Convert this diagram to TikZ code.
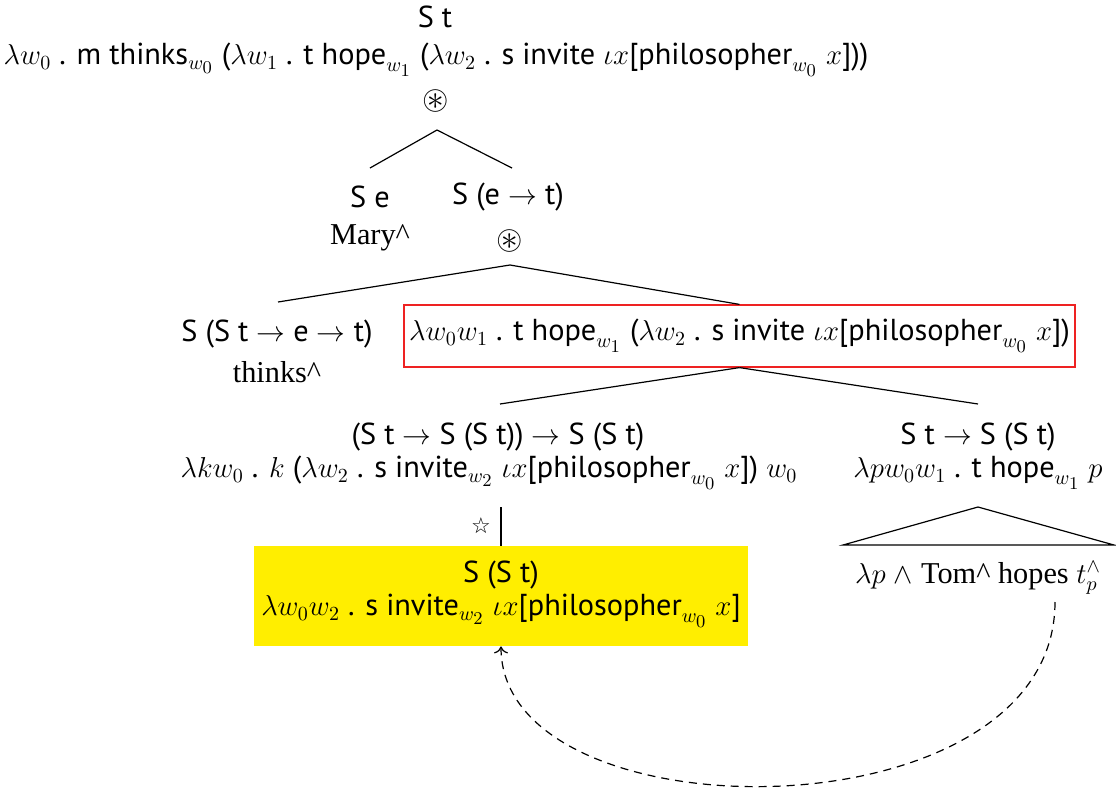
\documentclass[tikz,border=0pt]{standalone}
\usepackage{amsmath,amssymb}
\usepackage{fontspec}
\usetikzlibrary{arrows.meta}
\setmainfont{PT Sans}[Scale=1.06]
\newfontfamily\serifrm{Liberation Serif}[Scale=1.06]
\newfontfamily\symfont{DejaVu Sans}
\DeclareMathSizes{14.3}{14.3}{10.4}{8.6}
\definecolor{boxyellow}{HTML}{FFEE00}
\definecolor{boxred}{HTML}{EE2222}
\newcommand{\tx}[1]{\text{#1}}
\begin{document}
\begin{tikzpicture}[x=0.5pt,y=-0.5pt,
  lbl/.style={inner sep=0pt, anchor=center, font=\fontsize{14.3}{16}\selectfont},
  opsym/.style={inner sep=0pt, anchor=center, font=\fontsize{17}{19}\selectfont},
  edge/.style={line width=0.6pt},
  redbox/.style={draw=boxred, line width=0.6pt, minimum width=335.5pt, minimum height=31pt, inner sep=0pt, font=\fontsize{14.3}{16}\selectfont},
  yelbox/.style={fill=boxyellow, minimum width=247pt, minimum height=50pt, inner sep=0pt}]
\useasboundingbox (0,0) rectangle (1116,794);

% root
\node[lbl] (rtype) at (435,17) {S t};
\node[lbl] (rsem) at (436,60) {$\lambda w_0$ . m $\tx{thinks}_{w_0}$ ($\lambda w_1$ . t $\tx{hope}_{w_1}$ ($\lambda w_2$ . s invite $\iota x$[$\tx{philosopher}_{w_0}$ $x$]))};
\node[opsym] (rop) at (436,101) {$\circledast$};
\coordinate (rtop) at (437,130);

% level 1
\node[lbl] (setype) at (370,197) {S e};
\node[lbl] (mary) at (370,238) {\serifrm Mary\textasciicircum};
\coordinate (setop) at (370,168);
\node[lbl] (vptype) at (508,197) {S (e $\to$ t)};
\node[opsym] (vpop) at (510,241) {$\circledast$};
\coordinate (vptop) at (512,168);
\coordinate (vpbot) at (510,265);

% level 2
\coordinate (thtop) at (278,302);
\node[lbl] (thtype) at (277,334) {S (S t $\to$ e $\to$ t)};
\node[lbl] (thinks) at (277,372) {\serifrm thinks\textasciicircum};
\node[redbox] (hbox) at (739.5,336) {$\lambda w_0 w_1$ . t $\tx{hope}_{w_1}$ ($\lambda w_2$ . s invite $\iota x$[$\tx{philosopher}_{w_0}$ $x$])};

% level 3
\coordinate (ltop) at (500,404);
\node[lbl] (ltype) at (498,437) {(S t $\to$ S (S t)) $\to$ S (S t)};
\node[lbl] (lsem) at (489,473) {$\lambda k w_0$ . $k$ ($\lambda w_2$ . s $\tx{invite}_{w_2}$ $\iota x$[$\tx{philosopher}_{w_0}$ $x$]) $w_0$};
\coordinate (lbot) at (501,507);

\coordinate (rrtop) at (978,404);
\node[lbl] (rrtype) at (978,437) {S t $\to$ S (S t)};
\node[lbl] (rrsem) at (978,473) {$\lambda p w_0 w_1$ . t $\tx{hope}_{w_1}$ $p$};

% yellow box
\node[yelbox] (ybox) at (501,596) {};
\node[lbl] (ytype) at (501,575) {S (S t)};
\node[lbl] (ysem) at (501,611) {$\lambda w_0 w_2$ . s $\tx{invite}_{w_2}$ $\iota x$[$\tx{philosopher}_{w_0}$ $x$]};
\node[inner sep=0pt, font=\fontsize{11}{12}\selectfont\symfont] (star) at (481,526) {☆};

% triangle
\coordinate (apex) at (978,507);
\coordinate (bl) at (843,545);
\coordinate (br) at (1114,545);
\node[lbl] (tom) at (978,578) {$\lambda p\ \wedge$ \serifrm Tom\textasciicircum\ hopes $t_p^{\wedge}$};
\coordinate (dstart) at (1055,602);

% edges
\draw[edge] (rtop) -- (setop);
\draw[edge] (rtop) -- (vptop);
\draw[edge] (vpbot) -- (thtop);
\draw[edge] (vpbot) -- (hbox.north);
\draw[edge] (hbox.south) -- (ltop);
\draw[edge] (hbox.south) -- (rrtop);
\draw[edge] (lbot) -- (ybox.north);
\draw[edge] (apex) -- (bl) -- (br) -- cycle;
\draw[edge, dash pattern=on 4pt off 3pt, -{To[length=3.5pt,width=7pt]}] (dstart) .. controls (1055,840) and (501,840) .. (ybox.south);
\end{tikzpicture}
\end{document}
